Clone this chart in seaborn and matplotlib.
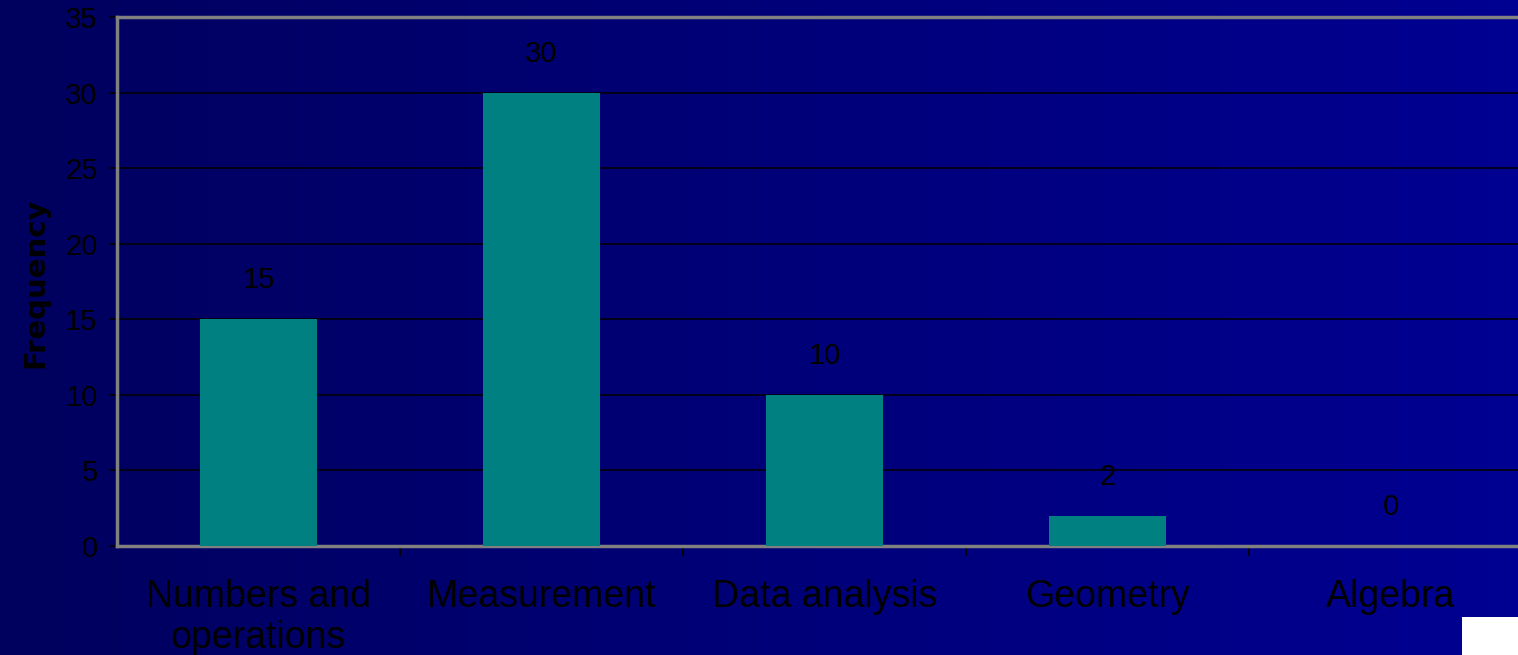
import matplotlib.pyplot as plt
import seaborn as sns
import numpy as np
import pandas as pd
from matplotlib.patches import Rectangle
from matplotlib.colors import LinearSegmentedColormap

plt.rcParams['font.family'] = ['Liberation Sans', 'DejaVu Sans']

# Data
categories = ['Numbers and\noperations', 'Measurement', 'Data analysis', 'Geometry', 'Algebra']
frequency = [15, 30, 10, 2, 0]
y_ticks = [0, 5, 10, 15, 20, 25, 30, 35]

df = pd.DataFrame({'topic': categories, 'freq': frequency})

fig = plt.figure(figsize=(15.18, 6.55), dpi=100)

# background gradient (dark navy -> brighter blue)
bg = fig.add_axes([0, 0, 1, 1], zorder=-10)
grad = np.linspace(0, 1, 256).reshape(1, -1)
bg_cmap = LinearSegmentedColormap.from_list("bg", ["#00005E", "#000092"])
bg.imshow(grad, aspect='auto', cmap=bg_cmap, extent=[0, 1, 0, 1])
bg.axis('off')

ax = fig.add_axes([117 / 1518, 109 / 655, 1415 / 1518, 529 / 655])
ax.patch.set_alpha(0)

sns.barplot(data=df, x='topic', y='freq', color='#008080', width=0.41,
            saturation=1, ax=ax, zorder=3)

ax.set_ylim(0, 35)
ax.set_xlim(-0.5, 4.5)
ax.set_yticks(y_ticks)
ax.yaxis.grid(True, color='#000000', linewidth=1.1, zorder=1)
ax.set_axisbelow(True)

# bar value labels
ax.bar_label(ax.containers[0], labels=[str(v) for v in frequency],
             padding=18, fontsize=21, color='black')

# category ticks at boundaries, labels at centers
ax.set_xticks(np.arange(len(categories)))
ax.set_xticklabels(categories, fontsize=27, color='black', linespacing=1.15)
ax.set_xticks(np.arange(0.5, len(categories) - 0.5, 1), minor=True)
ax.tick_params(axis='x', which='major', length=0, pad=24)
ax.tick_params(axis='x', which='minor', length=7, width=1.2, color='black')
ax.tick_params(axis='y', length=6, width=1.2, color='black', labelsize=21,
               labelcolor='black', pad=8)

for side in ['left', 'top', 'bottom']:
    ax.spines[side].set_color('#808080')
    ax.spines[side].set_linewidth(2.5)
ax.spines['right'].set_visible(False)

ax.set_xlabel('')
ax.set_ylabel('')
fig.text(35 / 1518, (655 - 283) / 655, 'Frequency', rotation=90, fontsize=21,
         fontweight='bold', color='black', ha='center', va='center',
         family=['DejaVu Sans'])

# white block in the lower right corner
fig.patches.append(Rectangle((1462 / 1518, 0), 56 / 1518, 38 / 655,
                             transform=fig.transFigure, facecolor='white',
                             edgecolor='none', zorder=5))

fig.savefig('out.png', dpi=100)
